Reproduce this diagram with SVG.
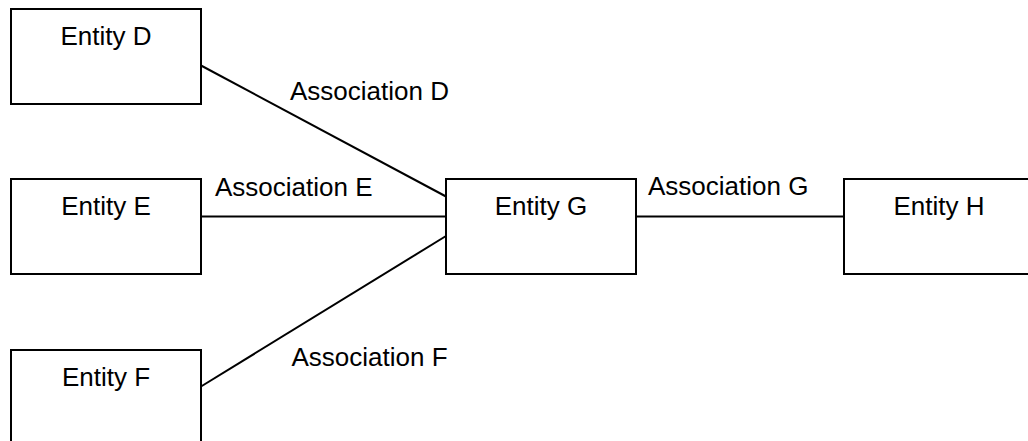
<svg xmlns="http://www.w3.org/2000/svg" width="1028" height="441" viewBox="0 0 1028 441">
<style>
.box{fill:#fff;stroke:#000;stroke-width:2}
.conn{stroke:#000;stroke-width:2;fill:none}
.t{font-family:"Liberation Sans",Arial,sans-serif;font-size:26px;fill:#000}
.c{text-anchor:middle}
</style>
<rect width="1028" height="441" fill="#fff"/>
<g id="connectors">
<line class="conn" x1="201" y1="65.5" x2="446" y2="196.5"/>
<line class="conn" x1="201" y1="216.5" x2="446" y2="216.5"/>
<line class="conn" x1="201" y1="386.5" x2="446" y2="236"/>
<line class="conn" x1="636" y1="216.5" x2="844" y2="216.5"/>
<text class="t" x="290" y="100">Association D</text>
<text class="t" x="215" y="195.5">Association E</text>
<text class="t" x="291.5" y="365.5">Association F</text>
<text class="t" x="648" y="195">Association G</text>
</g>
<g id="entity-d">
<rect class="box" x="11" y="9" width="190" height="95"/>
<text class="t c" x="106" y="45">Entity D</text>
</g>
<g id="entity-e">
<rect class="box" x="11" y="179" width="190" height="95"/>
<text class="t c" x="106" y="215">Entity E</text>
</g>
<g id="entity-f">
<rect class="box" x="11" y="350" width="190" height="95"/>
<text class="t c" x="106" y="385.5">Entity F</text>
</g>
<g id="entity-g">
<rect class="box" x="446" y="179" width="190" height="95"/>
<text class="t c" x="541" y="215">Entity G</text>
</g>
<g id="entity-h">
<rect class="box" x="844" y="179" width="190" height="95"/>
<text class="t c" x="939" y="215">Entity H</text>
</g>
</svg>
